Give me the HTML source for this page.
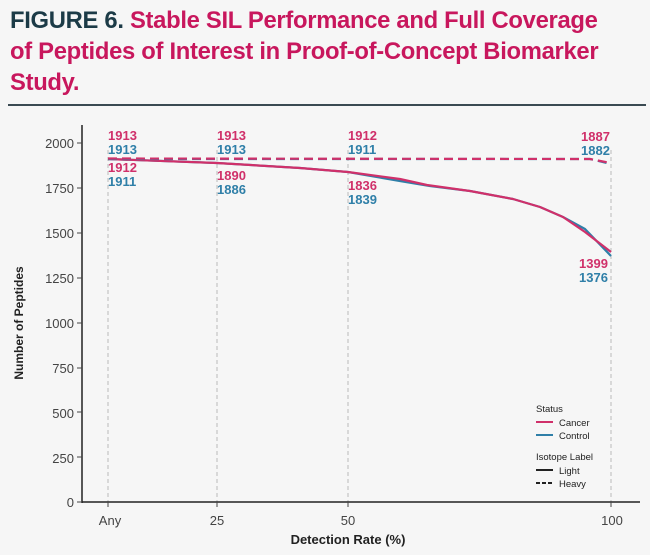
<!DOCTYPE html>
<html><head><meta charset="utf-8"><style>
body{margin:0;width:650px;height:555px;background:#f6f6f6;overflow:hidden;font-family:"Liberation Sans",sans-serif;}
.t{position:absolute;left:10px;top:5px;font-size:23.8px;font-weight:bold;line-height:31px;color:#c8175d;letter-spacing:-0.3px}
.t b{color:#1c3b47}
</style></head><body>
<div class="t"><b>FIGURE 6.</b> Stable SIL Performance and Full Coverage<br>of Peptides of Interest in Proof-of-Concept Biomarker<br>Study.</div>
<svg width="650" height="555" style="position:absolute;left:0;top:0">
<line x1="8" y1="105" x2="646" y2="105" stroke="#3a4a52" stroke-width="2"/>
<g stroke="#bbb" stroke-dasharray="4,3" stroke-width="1">
<line x1="108" y1="150" x2="108" y2="502"/><line x1="217" y1="150" x2="217" y2="502"/><line x1="348" y1="150" x2="348" y2="502"/><line x1="611" y1="150" x2="611" y2="502"/>
</g>
<line x1="82" y1="125" x2="82" y2="503" stroke="#222" stroke-width="1.5"/>
<line x1="82" y1="502" x2="640" y2="502" stroke="#222" stroke-width="1.5"/>
<g font-size="13" fill="#444" text-anchor="end">
<text x="74" y="148">2000</text><text x="74" y="193">1750</text><text x="74" y="238">1500</text><text x="74" y="283">1250</text><text x="74" y="328">1000</text><text x="74" y="373">750</text><text x="74" y="418">500</text><text x="74" y="463">250</text><text x="74" y="507">0</text>
</g>
<g stroke="#444"><line x1="77" y1="143" x2="82" y2="143"/><line x1="77" y1="188" x2="82" y2="188"/><line x1="77" y1="233" x2="82" y2="233"/><line x1="77" y1="278" x2="82" y2="278"/><line x1="77" y1="323" x2="82" y2="323"/><line x1="77" y1="368" x2="82" y2="368"/><line x1="77" y1="412" x2="82" y2="412"/><line x1="77" y1="457" x2="82" y2="457"/><line x1="77" y1="502" x2="82" y2="502"/>
<line x1="108" y1="502" x2="108" y2="507"/><line x1="217" y1="502" x2="217" y2="507"/><line x1="348" y1="502" x2="348" y2="507"/><line x1="611" y1="502" x2="611" y2="507"/></g>
<g font-size="13" fill="#444" text-anchor="middle">
<text x="110" y="525">Any</text><text x="217" y="525">25</text><text x="348" y="525">50</text><text x="612" y="525">100</text>
</g>
<text x="348" y="544" font-size="13" font-weight="bold" text-anchor="middle" fill="#222">Detection Rate (%)</text>
<text transform="translate(23,323) rotate(-90)" font-size="12" font-weight="bold" text-anchor="middle" fill="#222">Number of Peptides</text>
<g fill="none" stroke-width="2.2" stroke-linejoin="round">
<polyline stroke="#2f7fa8" points="108,159 217,163 300,168 348,172 400,181 430,186 470,191 513,199 540,207 563,217 585,229 611,256"/>
<polyline stroke="#d0306a" points="108,159 217,163 300,168 348,172 400,179 427,185 470,191 513,199 540,207 563,217 585,232 611,252"/>
<polyline stroke="#2f7fa8" stroke-dasharray="9,5" points="108,159 590,159 611,164"/>
<polyline stroke="#d0306a" stroke-dasharray="9,5" points="108,158.5 590,159 611,163"/>
</g>
<g font-size="13" font-weight="bold">
<g fill="#d0306a"><text x="108" y="140">1913</text><text x="217" y="140">1913</text><text x="348" y="140">1912</text><text x="581" y="141">1887</text><text x="108" y="172">1912</text><text x="217" y="180">1890</text><text x="348" y="190">1836</text><text x="579" y="268">1399</text></g>
<g fill="#2f7fa8"><text x="108" y="154">1913</text><text x="217" y="154">1913</text><text x="348" y="154">1911</text><text x="581" y="155">1882</text><text x="108" y="186">1911</text><text x="217" y="194">1886</text><text x="348" y="204">1839</text><text x="579" y="282">1376</text></g>
</g>
<g font-size="9.5" fill="#222">
<text x="536" y="412">Status</text>
<line x1="536" y1="422" x2="553" y2="422" stroke="#d0306a" stroke-width="2"/><text x="559" y="426">Cancer</text>
<line x1="536" y1="435" x2="553" y2="435" stroke="#2f7fa8" stroke-width="2"/><text x="559" y="439">Control</text>
<text x="536" y="460">Isotope Label</text>
<line x1="536" y1="470" x2="553" y2="470" stroke="#222" stroke-width="2"/><text x="559" y="474">Light</text>
<line x1="536" y1="483" x2="553" y2="483" stroke="#222" stroke-width="2" stroke-dasharray="4,2"/><text x="559" y="487">Heavy</text>
</g>
</svg>
</body></html>
